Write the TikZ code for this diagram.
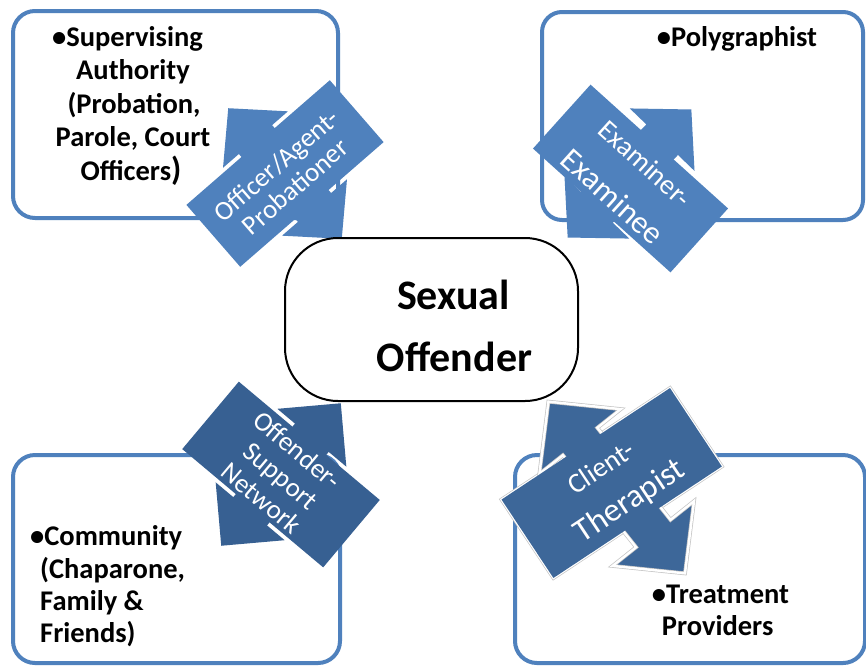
\documentclass[tikz,border=0pt]{standalone}
\usepackage{fontspec}
\setmainfont{Carlito}
\definecolor{boxblue}{RGB}{79,129,189}
\definecolor{arrA}{RGB}{79,129,189}
\definecolor{arrC}{RGB}{55,96,146}
\definecolor{arrD}{RGB}{61,103,153}
\definecolor{rimgray}{RGB}{196,196,196}
\begin{document}
\begin{tikzpicture}[x=1pt,y=-1pt]
\tikzset{
  cornerbox/.style={draw=boxblue, line width=4pt, fill=white, rounded corners=22pt, inner sep=0pt, outer sep=0pt},
  btxt/.style={font=\fontsize{28.5}{34}\selectfont\bfseries, inner sep=0pt, anchor=base},
  ctxt/.style={font=\fontsize{42}{50}\selectfont\bfseries, inner sep=0pt, anchor=base},
  lbl/.style={text=white, font=\fontsize{27}{30}\selectfont, inner sep=0pt, anchor=base},
  biglbl/.style={text=white, font=\fontsize{32}{36}\selectfont, inner sep=0pt, anchor=base},
  rim/.style={draw=rimgray, line width=0.7pt, double=white, double distance=2.4pt}
}
\useasboundingbox (0,0) rectangle (866,665);
\fill[white] (0,0) rectangle (866,665);

% corner boxes
\node[cornerbox, minimum width=325pt, minimum height=207pt] (supbox) at (175.5,114.5) {};
\node[cornerbox, minimum width=321pt, minimum height=208pt, rounded corners=20pt] (polybox) at (702.5,116) {};
\node[cornerbox, minimum width=327pt, minimum height=208pt] (combox) at (176.5,559) {};
\node[cornerbox, minimum width=350pt, minimum height=208pt] (trtbox) at (690,559) {};

% box texts
\node[btxt] (s1) at (127.5,46) {\textbullet Supervising};
\node[btxt] (s2) at (133,79.5) {Authority};
\node[btxt] (s3) at (134,113) {(Probation,};
\node[btxt] (s4) at (133,146.5) {Parole, Court};
\node[btxt] (s5) at (131,180) {Officers{\fontsize{33}{33}\selectfont)}};

\node[btxt] (p1) at (737,46) {\textbullet Polygraphist};

\node[btxt, anchor=base west] (c1) at (30,545) {\textbullet Community};
\node[btxt, anchor=base west] (c2) at (40,578) {(Chaparone,};
\node[btxt, anchor=base west] (c3) at (40,610) {Family \&};
\node[btxt, anchor=base west] (c4) at (40,642) {Friends)};

\node[btxt, anchor=base west] (t1) at (651.7,603) {\textbullet Treatment};
\node[btxt, anchor=base west] (t2) at (661.7,635) {Providers};

% arrow A : Officer/Agent-Probationer
\begin{scope}[shift={(285,173.5)}, rotate=41, transform shape]
  \fill[arrA] (0,-86.5) -- (43,-45) -- (22,-45) -- (22,45) -- (43,45) -- (0,86.5)
     -- (-43,45) -- (-22,45) -- (-22,-45) -- (-43,-45) -- cycle;
  \fill[arrA] (-95,-41) rectangle (95,41);
  \node[lbl] (la1) at (-1.5,-3) {Officer/Agent-};
  \node[lbl] (la2) at (-1,25.6) {Probationer};
\end{scope}

% arrow B : Examiner-Examinee
\begin{scope}[shift={(629.5,173.5)}, rotate=-44]
  \fill[arrA] (0,-89) -- (45,-47) -- (22,-47) -- (22,47) -- (45,47) -- (0,89)
     -- (-45,47) -- (-22,47) -- (-22,-47) -- (-45,-47) -- cycle;
\end{scope}
\begin{scope}[shift={(630.5,178.5)}, rotate=-42, transform shape]
  \fill[arrA] (-92.5,-43) rectangle (92.5,43);
  \node[lbl, font=\fontsize{28}{30}\selectfont] (lb1) at (1.2,-11.4) {Examiner-};
  \node[biglbl] (lb2) at (-1.1,36) {Examinee};
\end{scope}

% arrow C : Offender-Support Network
\begin{scope}[shift={(281,474.5)}, rotate=-40, transform shape]
  \fill[arrC] (0,-93) -- (45,-48) -- (22,-48) -- (22,48) -- (45,48) -- (0,93)
     -- (-45,48) -- (-22,48) -- (-22,-48) -- (-45,-48) -- cycle;
  \fill[arrC] (-92,-44) rectangle (92,44);
  \node[lbl] (lc1) at (-3.3,-20.3) {Offender-};
  \node[lbl] (lc2) at (0.6,10.5) {Support};
  \node[lbl] (lc3) at (0.3,40) {Network};
\end{scope}

% arrow D : Client-Therapist
\begin{scope}[shift={(611.7,483)}, rotate=33.5]
  \filldraw[arrD, rim] (-101,-47) rectangle (101,47);
\end{scope}
\begin{scope}[shift={(616.7,487.5)}, rotate=38.5]
  \filldraw[fill=arrD, rim] (0,-109.7) -- (52,-58.8) -- (22,-58.8) -- (22,58.8) -- (52,58.8) -- (0,109.7)
     -- (-52,58.8) -- (-22,58.8) -- (-22,-58.8) -- (-52,-58.8) -- cycle;
\end{scope}
\begin{scope}[shift={(611.7,483)}, rotate=33.5, transform shape]
  \fill[arrD] (-101,-47) rectangle (101,47);
  \node[lbl, font=\fontsize{28}{30}\selectfont] (ld1) at (-0.5,-9.9) {Client-};
  \node[biglbl, font=\fontsize{33}{36}\selectfont] (ld2) at (5.2,34.4) {Therapist};
\end{scope}

% centre
\node[draw=black, line width=2pt, fill=white, rounded corners=53pt,
      minimum width=293pt, minimum height=163pt, inner sep=0pt] (offender) at (431.5,319.5) {};
\node[ctxt] (x1) at (453.5,309) {Sexual};
\node[ctxt] (x2) at (454.5,371) {Offender};
\end{tikzpicture}
\end{document}
